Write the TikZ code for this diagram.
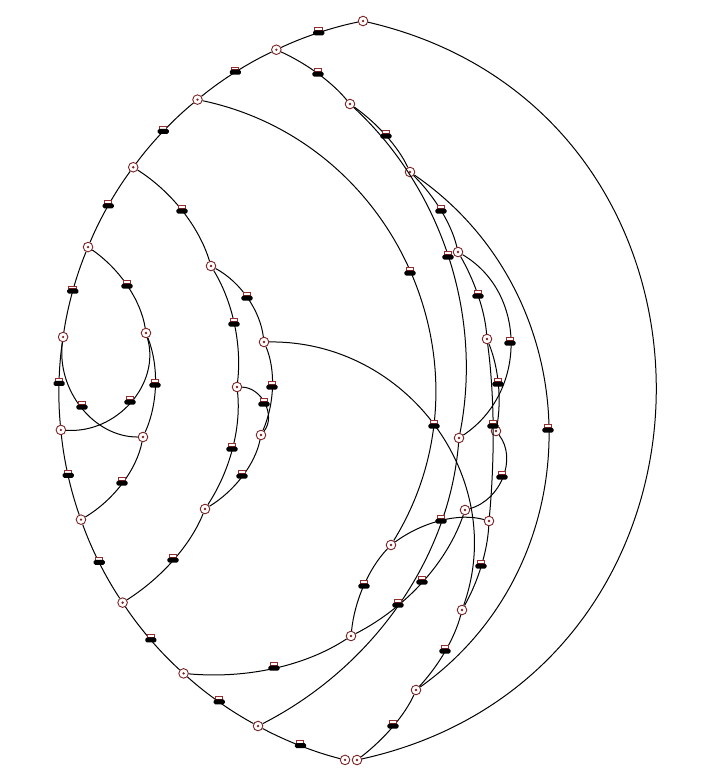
\documentclass[tikz,border=0pt]{standalone}
\usetikzlibrary{calc}
\definecolor{nodered}{RGB}{125,35,35}
\definecolor{lblred}{RGB}{150,45,45}
\tikzset{
  vtx/.style={circle, draw=nodered, line width=0.45pt, fill=white, minimum size=4.8pt, inner sep=0pt,
    path picture={\fill[nodered] (path picture bounding box.center) circle (0.65pt);}},
  lbl/.style={rectangle, rounded corners=0.8pt, fill=black, minimum width=5.6pt, minimum height=2.5pt,
    inner sep=0pt,
    append after command={\pgfextra{\draw[draw=lblred, line width=0.35pt, fill=white]
      ([xshift=-2.0pt,yshift=-0.2pt]\tikzlastnode.north) rectangle ([xshift=1.6pt,yshift=1.2pt]\tikzlastnode.north);}}},
  edge/.style={draw=black, line width=0.5pt},
}
% edge from #1 to #2 as a circular-like arc through midpoint coordinate #3
\newcommand\cedge[3]{%
  \draw[edge] let \p1=(#1.center), \p2=(#2.center), \p3=(#3),
    \n1={(\x3-(\x1+\x2)/2)/100}, \n2={(\y3-(\y1+\y2)/2)/100},
    \n3={(\x2-\x1)/100}, \n4={(\y2-\y1)/100},
    \n5={4*(\n1*\n1+\n2*\n2)/(\n3*\n3+\n4*\n4)} in
    (#1) .. controls ({(4*\x3-\x2)/3-\n5*(\x2-\x1)/3},{(4*\y3-\y2)/3-\n5*(\y2-\y1)/3})
      and ({(4*\x3-\x1)/3+\n5*(\x2-\x1)/3},{(4*\y3-\y1)/3+\n5*(\y2-\y1)/3}) .. (#2);}
\begin{document}
\begin{tikzpicture}[x=0.5pt,y=-0.5pt]
\useasboundingbox (0,0) rectangle (719,784);
\coordinate (C) at (438,392.5);
% ring nodes
\foreach \nm/\a in {n1/258.59, n2/244.75, n3/230.61, n4/216.47, n5/202.57, n6/188.42,
  n7/174.33, n8/160.4, n9/146.33, n10/132.17, n11/118.35, n12/104.2}
  \node[vtx] (\nm) at ($(C)+(\a:379)$) {};
\foreach \nm/\a in {r1/251.67, r2/237.68, r3/223.54, r4/209.52, r5/195.5, r6/181.38,
  r7/167.37, r8/153.37, r9/139.25, r10/125.26, r11/111.28}
  \coordinate (\nm) at ($(C)+(\a:379)$);
% other nodes
\foreach \nm/\x/\y in {n13/357/760, m1/350/104, m2/410/172, m3/458/252, m4/487/339,
  m5/496/431, m6/489/521, m7/462/610, m8/416/690, p1/211/266, p2/146/333, p3/143/437,
  p4/237/387, p5/264/342, p6/261/435, p7/205/509, q1/391/545, q2/351/636, q3/465/510,
  q4/459/438}
  \node[vtx] (\nm) at (\x,\y) {};
% label positions (edge midpoints)
\foreach \nm/\x/\y in {a1/318/74, a2/386/136, a3/441/211, a4/478/296, a5/498/384,
  a6/493/426, a7/481/566, a8/445/651, a9/393/726, a10/548/430, a11/448/257, a12/510/343,
  a13/502/477, a14/410/273, a15/434/426, a16/441/521, a17/364/586, a18/274/668,
  a19/422/582, a20/398/605, a21/182/211, a22/234/324, a23/247/298, a24/232/449,
  a25/264/404, a26/272/387, a27/242/476, a28/173/560, a29/127/286, a30/155/385,
  a31/130/402, a32/82/407, a33/122/483, big/655/392}
  \coordinate (\nm) at (\x,\y);
% ring edges
\cedge{n1}{n2}{r1}
\cedge{n2}{n3}{r2}
\cedge{n3}{n4}{r3}
\cedge{n4}{n5}{r4}
\cedge{n5}{n6}{r5}
\cedge{n6}{n7}{r6}
\cedge{n7}{n8}{r7}
\cedge{n8}{n9}{r8}
\cedge{n9}{n10}{r9}
\cedge{n10}{n11}{r10}
\cedge{n11}{n12}{r11}
\cedge{n1}{n13}{big}
% inner edges
\cedge{n2}{m1}{a1}
\cedge{m1}{m2}{a2}
\cedge{m2}{m3}{a3}
\cedge{m3}{m4}{a4}
\cedge{m4}{m5}{a5}
\cedge{m4}{m6}{a6}
\cedge{m6}{m7}{a7}
\cedge{m7}{m8}{a8}
\cedge{m8}{n13}{a9}
\cedge{m2}{m8}{a10}
\cedge{m1}{q4}{a11}
\cedge{m3}{q4}{a12}
\cedge{q3}{m5}{a13}
\cedge{n3}{q1}{a14}
\cedge{p5}{m7}{a15}
\cedge{q1}{m6}{a16}
\cedge{q1}{q2}{a17}
\cedge{q2}{n10}{a18}
\cedge{q2}{q3}{a19}
\cedge{n11}{q4}{a20}
\cedge{n4}{p1}{a21}
\cedge{p1}{p4}{a22}
\cedge{p1}{p5}{a23}
\cedge{p4}{p7}{a24}
\cedge{p4}{p6}{a25}
\cedge{p5}{p6}{a26}
\cedge{p6}{p7}{a27}
\cedge{p7}{n9}{a28}
\cedge{n5}{p2}{a29}
\cedge{p2}{p3}{a30}
\cedge{p2}{n7}{a31}
\cedge{n6}{p3}{a32}
\cedge{p3}{n8}{a33}
% labels
\foreach \c in {r1,r2,r3,r4,r5,r6,r7,r8,r9,r10,r11,a1,a2,a3,a4,a5,a6,a7,a8,a9,a10,a11,
  a12,a13,a14,a15,a16,a17,a18,a19,a20,a21,a22,a23,a24,a25,a26,a27,a28,a29,a30,a31,a32,a33}
  \node[lbl] (L-\c) at (\c) {};
\end{tikzpicture}
\end{document}
